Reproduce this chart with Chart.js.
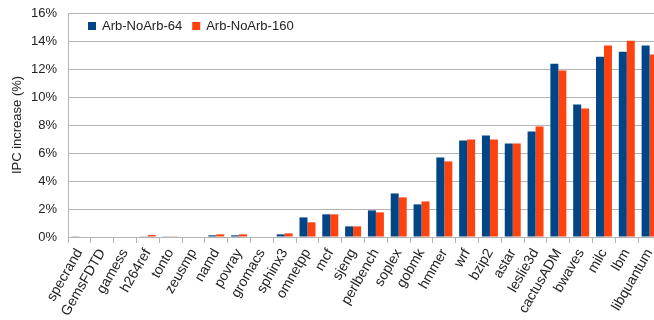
<!DOCTYPE html>
<html>
<head>
<meta charset="utf-8">
<script src="https://cdn.jsdelivr.net/npm/chart.js@4.4.1/dist/chart.umd.min.js"></script>
<style>
	html, body { margin: 0; padding: 0; background: #fff; overflow: hidden; }
	#wrap { width: 664px; height: 320px; }
</style>
</head>
<body>
<div id="wrap"><canvas id="chart-ipc"></canvas></div>
<script>
const BENCHMARKS = [
	"specrand", "GemsFDTD", "gamess", "h264ref", "tonto", "zeusmp", "namd", "povray", "gromacs",
	"sphinx3", "omnetpp", "mcf", "sjeng", "perlbench", "soplex", "gobmk", "hmmer", "wrf", "bzip2",
	"astar", "leslie3d", "cactusADM", "bwaves", "milc", "lbm", "libquantum",
];
const ARB_64 = [
	0.05, 0, 0, 0.05, 0.05, 0, 0.12, 0.12, 0,
	0.19, 1.4, 1.62, 0.76, 1.9, 3.11, 2.33, 5.68, 6.89, 7.25,
	6.68, 7.54, 12.38, 9.46, 12.88, 13.24, 13.67,
];
const ARB_160 = [
	0, 0, 0, 0.14, 0.05, 0, 0.19, 0.19, 0,
	0.26, 1.05, 1.62, 0.76, 1.76, 2.83, 2.54, 5.4, 6.96, 6.96,
	6.68, 7.89, 11.89, 9.18, 13.67, 14.02, 13.03,
];
const Y_TICKS = [0, 2, 4, 6, 8, 10, 12, 14, 16];

const BLUE = "#004586";
const ORANGE = "#ff420e";
const GRID = "#b3b3b3";
const TEXT = "#222";
const FONT = "'Liberation Sans', Arial, sans-serif";

const CHART_WRAPPER = document.getElementById("chart-ipc");

// legend drawn inside the plot, in one row near the top
const innerLegend = {
	id: "innerLegend",
	afterDraw(chart) {
		const { ctx, chartArea } = chart;
		let x = chartArea.left + 20;
		const y = chartArea.top + 13;
		ctx.save();
		ctx.font = "13px " + FONT;
		ctx.textBaseline = "middle";
		chart.data.datasets.forEach((ds) => {
			ctx.fillStyle = ds.backgroundColor;
			ctx.fillRect(x, y - 4, 8, 8);
			x += 14;
			ctx.fillStyle = TEXT;
			ctx.fillText(ds.label, x, y);
			x += ctx.measureText(ds.label).width + 10;
		});
		ctx.restore();
	},
};

const CHART_DATA = {
	labels: BENCHMARKS,
	datasets: [
		{
			label: "Arb-NoArb-64",
			data: ARB_64,
			backgroundColor: BLUE,
			borderWidth: 0,
			categoryPercentage: 0.7,
			barPercentage: 1.0,
		},
		{
			label: "Arb-NoArb-160",
			data: ARB_160,
			backgroundColor: ORANGE,
			borderWidth: 0,
			categoryPercentage: 0.7,
			barPercentage: 1.0,
		},
	],
};

new Chart(CHART_WRAPPER, {
	type: "bar",
	data: CHART_DATA,
	plugins: [innerLegend],
	options: {
		responsive: true,
		maintainAspectRatio: false,
		animation: false,
		layout: {
			padding: { top: 0, right: 3, left: 10, bottom: 0 },
		},
		scales: {
			x: {
				// fixed label band, plot runs past the right edge like the original
				afterFit: (axis) => {
					axis.height = 83;
					axis.paddingLeft = 0;
					axis.paddingRight = 0;
				},
				grid: {
					drawOnChartArea: false,
					color: GRID,
					tickLength: 6,
				},
				border: { color: GRID, width: 1 },
				ticks: {
					color: TEXT,
					font: { family: FONT, size: 14 },
					minRotation: 60,
					maxRotation: 60,
					autoSkip: false,
					padding: 3,
				},
			},
			y: {
				min: 0,
				max: 16,
				afterBuildTicks: (axis) => {
					axis.ticks = Y_TICKS.map((v) => ({ value: v }));
				},
				afterFit: (axis) => {
					axis.paddingTop = 13;
					axis.width = 58;
				},
				grid: {
					color: GRID,
					drawTicks: false,
				},
				border: { color: GRID, width: 1 },
				ticks: {
					color: TEXT,
					font: { family: FONT, size: 13 },
					padding: 11,
					callback: (v) => v + "%",
				},
				title: {
					display: true,
					text: "IPC increase (%)",
					color: TEXT,
					font: { family: FONT, size: 13 },
					padding: { top: 0, bottom: 5 },
				},
			},
		},
		plugins: {
			legend: { display: false },
			tooltip: { enabled: false },
		},
	},
});
</script>
</body>
</html>
